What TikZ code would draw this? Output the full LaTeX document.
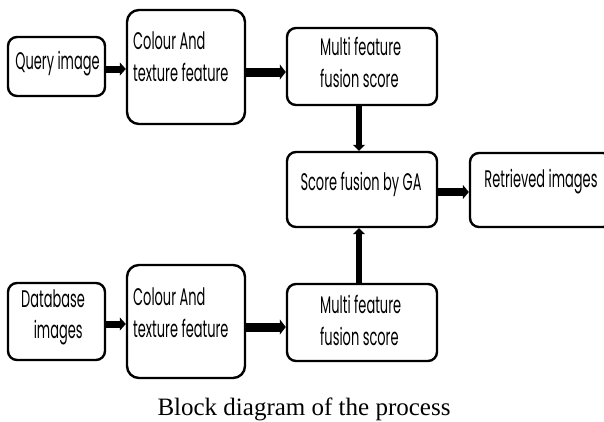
\documentclass[tikz,border=0pt]{standalone}
\usepackage{fontspec}
\usetikzlibrary{arrows.meta}
\newfontfamily\boxfont[FakeStretch=0.54]{Poppins}
\newfontfamily\capfont{Liberation Serif}
\begin{document}
\begin{tikzpicture}[x=1pt,y=-1pt,
  blk/.style={draw,line width=2.4pt,rounded corners=9pt,inner sep=0pt},
  lbl/.style={font=\boxfont\fontsize{24}{32}\selectfont,inner sep=0pt,align=left},
  flow/.style={line width=#1,-{Triangle[width=#1+6pt,length=6pt]}},
]
\useasboundingbox (0,0) rectangle (604,421);

% blocks
\node[blk,minimum width=97pt,minimum height=59pt] (q) at (56.5,66.5) {};
\node[blk,minimum width=118pt,minimum height=114pt,rounded corners=12pt] (c1) at (186,67) {};
\node[blk,minimum width=150pt,minimum height=77pt] (m1) at (362,66.5) {};
\node[blk,minimum width=150pt,minimum height=75pt] (s) at (362,189.5) {};
\node[blk,minimum width=142pt,minimum height=74pt] (r) at (541,190) {};
\node[blk,minimum width=97pt,minimum height=77pt] (d) at (56.5,321.5) {};
\node[blk,minimum width=118pt,minimum height=113pt,rounded corners=12pt] (c2) at (186,321.5) {};
\node[blk,minimum width=150pt,minimum height=77pt] (m2) at (362,322.5) {};

% texts
\node[lbl] (tq) at (57.5,64) {Query image};
\node[lbl,anchor=west] (tc1) at (133,57) {Colour And\\ texture feature};
\node[lbl,anchor=west] (tm1) at (320,62) {Multi feature\\fusion score};
\node[lbl] (ts) at (361,184) {Score fusion by GA};
\node[lbl] (tr) at (541,182) {Retrieved images};
\node[lbl,align=center,font=\boxfont\fontsize{24}{31}\selectfont] (td) at (53,317) {Database\\\ \ \ images};
\node[lbl,anchor=west] (tc2) at (133,313) {Colour And\\ texture feature};
\node[lbl,anchor=west] (tm2) at (320,320) {Multi feature\\fusion score};

% connectors
\draw[flow=7pt] ([yshift=-2.5pt]q.east) -- ([yshift=-2.5pt]q.east -| c1.west);
\draw[flow=9pt] ([yshift=-5pt]c1.east) -- ([yshift=-5pt]c1.east -| m1.west);
\draw[flow=6pt] ([xshift=-3pt]m1.south) -- ([xshift=-3pt]s.north);
\draw[flow=8pt] ([yshift=-2.5pt]s.east) -- ([yshift=-2.5pt]s.east -| r.west);
\draw[flow=7pt] ([yshift=-2.5pt]d.east) -- ([yshift=-2.5pt]d.east -| c2.west);
\draw[flow=9pt] ([yshift=-5.5pt]c2.east) -- ([yshift=-5.5pt]c2.east -| m2.west);
\draw[flow=6pt] ([xshift=-3pt]m2.north) -- ([xshift=-3pt]s.south);

% caption
\node[font=\capfont\fontsize{25}{30}\selectfont,anchor=base,inner sep=0pt] (cap) at (304,415) {Block diagram of the process};
\end{tikzpicture}
\end{document}
